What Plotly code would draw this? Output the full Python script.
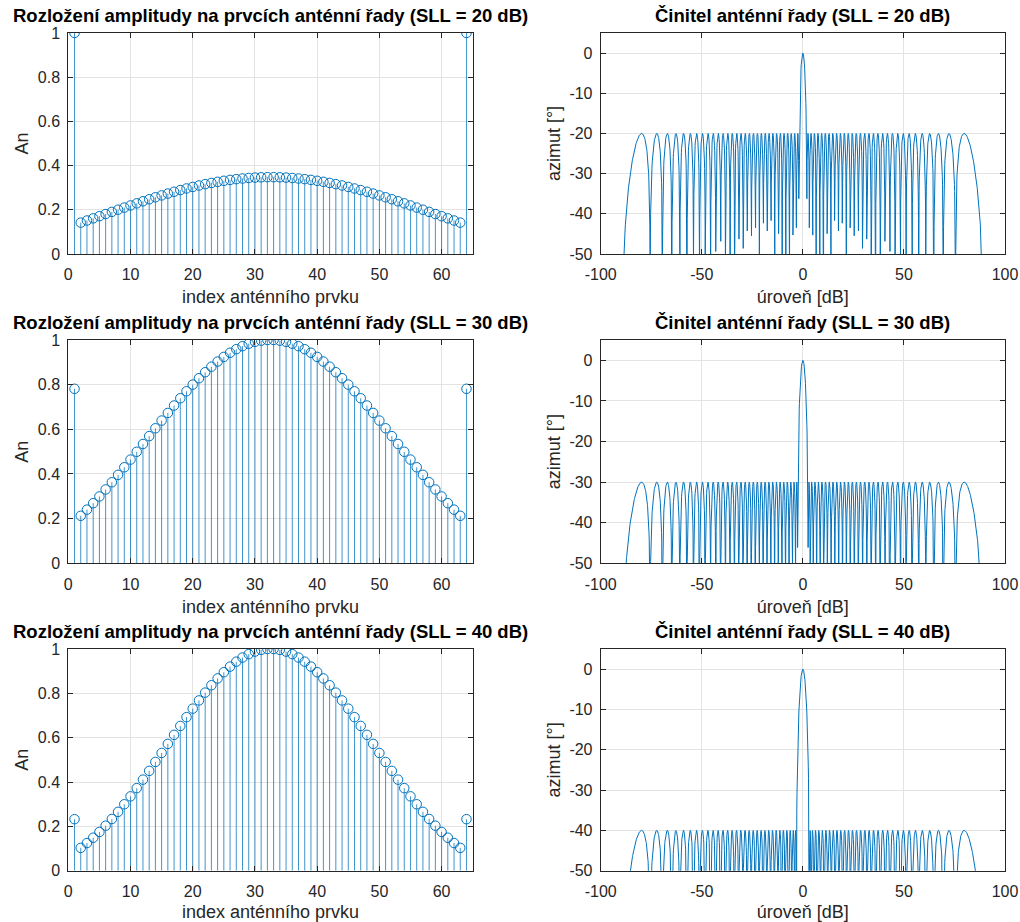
import numpy as np
import plotly.graph_objects as go

# ---- data: element amplitudes (first half, array is symmetric) ----
sll_levels = [20, 30, 40]
amp_20_half = [1.0000, 0.1420, 0.1516, 0.1613, 0.1710, 0.1808, 0.1906, 0.2004,
               0.2101, 0.2197, 0.2292, 0.2385, 0.2476, 0.2565, 0.2651, 0.2735,
               0.2815, 0.2892, 0.2965, 0.3035, 0.3100, 0.3160, 0.3216, 0.3266,
               0.3312, 0.3352, 0.3387, 0.3416, 0.3440, 0.3458, 0.3470, 0.3476]
amp_30_half = [0.7815, 0.2127, 0.2403, 0.2692, 0.2993, 0.3306, 0.3629, 0.3961,
               0.4300, 0.4645, 0.4994, 0.5344, 0.5696, 0.6046, 0.6392, 0.6733,
               0.7066, 0.7391, 0.7704, 0.8003, 0.8288, 0.8556, 0.8805, 0.9035,
               0.9243, 0.9428, 0.9588, 0.9724, 0.9834, 0.9917, 0.9972, 1.0000]
amp_40_half = [0.2323, 0.1030, 0.1248, 0.1487, 0.1748, 0.2030, 0.2333, 0.2655,
               0.2996, 0.3353, 0.3724, 0.4108, 0.4503, 0.4905, 0.5311, 0.5720,
               0.6127, 0.6530, 0.6925, 0.7310, 0.7680, 0.8032, 0.8364, 0.8672,
               0.8954, 0.9206, 0.9428, 0.9615, 0.9768, 0.9883, 0.9961, 1.0000]
amp_halves = [amp_20_half, amp_30_half, amp_40_half]

left_title = "Rozložení amplitudy na prvcích anténní řady (SLL = {} dB)"
right_title = "Činitel anténní řady (SLL = {} dB)"
left_xlabel = "index anténního prvku"
left_ylabel = "An"
right_xlabel = "úroveň [dB]"
right_ylabel = "azimut [°]"
left_xticks = [0, 10, 20, 30, 40, 50, 60]
left_yticks = [0, 0.2, 0.4, 0.6, 0.8, 1]
right_xticks = [-100, -50, 0, 50, 100]
right_yticks = [-50, -40, -30, -20, -10, 0]

BLUE = "#0072BD"
STEM = "rgba(0,114,189,0.75)"
AX = "#262626"
GRID = "#e3e3e3"
FONT = "Liberation Sans, Arial, sans-serif"

W, H = 1020, 922
left_dom = [68.3 / W, 472.7 / W]
right_dom = [600.7 / W, 1005.0 / W]
rows_px = [(33, 254), (340, 563.3), (649, 870.7)]


def lab(v):
    return f"{v:g}".replace("−", "-")


fig = go.Figure()
theta = np.arange(-90, 90.0001, 0.1)

for r, (sll, half) in enumerate(zip(sll_levels, amp_halves)):
    amps = np.array(half + half[::-1])
    idx = np.arange(1, len(amps) + 1)
    top, bot = rows_px[r]
    ydom = [1 - bot / H, 1 - top / H]
    xa_l, ya_l = 2 * r + 1, 2 * r + 1
    xa_r, ya_r = 2 * r + 2, 2 * r + 2

    # stem plot
    fig.add_trace(go.Scatter(
        x=idx, y=amps, mode="markers",
        marker=dict(symbol="circle-open", size=9.5, color=BLUE, line=dict(width=1, color=BLUE)),
        error_y=dict(type="data", symmetric=False, array=np.zeros_like(amps),
                     arrayminus=amps, width=0, thickness=1, color=STEM),
        xaxis=f"x{xa_l}", yaxis=f"y{ya_l}", showlegend=False, hoverinfo="x+y"))

    # array factor from amplitudes (d = lambda/2)
    n = np.arange(len(amps))
    af = np.abs(np.exp(1j * np.pi * np.outer(np.sin(np.radians(theta)), n)) @ amps)
    af_db = 20 * np.log10(af / af.max() + 1e-12)
    fig.add_trace(go.Scatter(
        x=theta, y=af_db, mode="lines", line=dict(color=BLUE, width=1),
        xaxis=f"x{xa_r}", yaxis=f"y{ya_r}", showlegend=False))

    common = dict(showline=True, linecolor=AX, linewidth=1, mirror="ticks",
                  ticks="inside", ticklen=5, tickcolor=AX, showgrid=True,
                  gridcolor=GRID, gridwidth=1, zeroline=False, automargin=False,
                  tickfont=dict(family=FONT, size=16, color=AX),
                  title_font=dict(family=FONT, size=18, color=AX))
    fig.layout[f"xaxis{xa_l}"] = dict(common, domain=left_dom, anchor=f"y{ya_l}",
                                      range=[0, 65], tickvals=left_xticks,
                                      ticktext=[lab(v) for v in left_xticks],
                                      ticklabelstandoff=6,
                                      title=dict(text=left_xlabel, standoff=8))
    fig.layout[f"yaxis{ya_l}"] = dict(common, domain=ydom, anchor=f"x{xa_l}",
                                      range=[0, 1], tickvals=left_yticks,
                                      ticktext=[lab(v) for v in left_yticks],
                                      ticklabelstandoff=4,
                                      title=dict(text=left_ylabel, standoff=4))
    fig.layout[f"xaxis{xa_r}"] = dict(common, domain=right_dom, anchor=f"y{ya_r}",
                                      range=[-100, 100], tickvals=right_xticks,
                                      ticktext=[lab(v) for v in right_xticks],
                                      ticklabelstandoff=6,
                                      title=dict(text=right_xlabel, standoff=8))
    fig.layout[f"yaxis{ya_r}"] = dict(common, domain=ydom, anchor=f"x{xa_r}",
                                      range=[-50, 5], tickvals=right_yticks,
                                      ticktext=[lab(v) for v in right_yticks],
                                      ticklabelstandoff=4,
                                      title=dict(text=right_ylabel, standoff=4))

    for dom, txt in ((left_dom, left_title), (right_dom, right_title)):
        fig.add_annotation(x=(dom[0] + dom[1]) / 2, y=ydom[1], xref="paper", yref="paper",
                           xanchor="center", yanchor="middle", yshift=18, showarrow=False,
                           text=f"<b>{txt.format(sll)}</b>",
                           font=dict(family=FONT, size=18.5, color="black"))

fig.update_layout(width=W, height=H, margin=dict(l=0, r=0, t=0, b=0),
                  paper_bgcolor="white", plot_bgcolor="white",
                  font=dict(family=FONT, color=AX))
fig.write_html("out.html", config={"displayModeBar": False},
               post_script="document.body.style.margin='0';")
